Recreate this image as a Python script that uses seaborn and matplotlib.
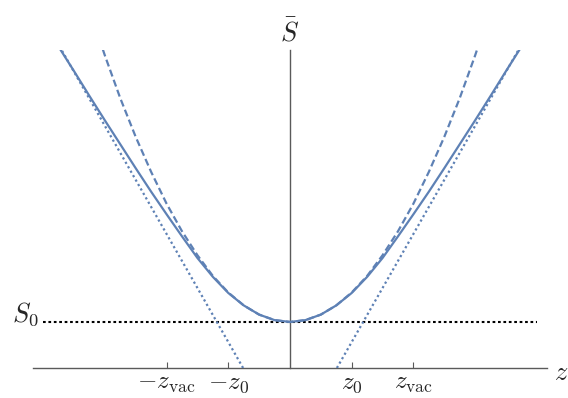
import matplotlib
matplotlib.use("Agg")
import matplotlib.pyplot as plt
import seaborn as sns
import pandas as pd

# Positions along z (in units of z0) for the right half; the curves are symmetric
z_half = [0.0, 0.25, 0.5, 0.75, 1.0, 1.25, 1.5, 1.75, 2.0, 2.25, 2.5, 2.75, 3.0, 3.25, 3.5, 3.75]
# Full action S-bar (in units of S0)
s_full_half = [1.00, 1.04, 1.16, 1.36, 1.63, 1.98, 2.39, 2.86, 3.34, 3.83, 4.34, 4.86, 5.38, 5.91, 6.45, 6.98]
# Small-z (quadratic) approximation
s_quad_half = [1.00, 1.04, 1.16, 1.36, 1.64, 2.00, 2.45, 2.97, 3.57, 4.26, 5.02, 5.86, 6.79, 7.79, 8.88, 10.04]
# Large-z (linear) approximation: two end points per branch
z_lin = [0.76, 3.80]
s_lin = [0.00, 7.14]

s0_level = 1.0
s0_span = [-4.0, 4.0]
tick_pos = [-2, -1, 1, 2]
tick_labels = [r"$-z_{\mathrm{vac}}$", r"$-z_0$", r"$z_0$", r"$z_{\mathrm{vac}}$"]

x_lim = (-4.165, 4.165)
y_lim = (0.0, 6.91)

sns.set_theme(style="white")
plt.rcParams["mathtext.fontset"] = "cm"
plt.rcParams["font.family"] = ["DejaVu Serif"]

blue = "#5E81B5"
axis_grey = "#5a5a5a"
label_size = 19
tick_size = 18

z_all = [-v for v in z_half[::-1]] + z_half[1:]
full_df = pd.DataFrame({"z": z_all, "S": s_full_half[::-1] + s_full_half[1:]})
quad_df = pd.DataFrame({"z": z_all, "S": s_quad_half[::-1] + s_quad_half[1:]})

fig = plt.figure(figsize=(5.68, 3.98), dpi=100)
ax = fig.add_axes([0.0581, 0.0754, 0.9049, 0.799])

# reference level S0
ax.plot(s0_span, [s0_level, s0_level], color="black", lw=1.5,
        linestyle=(0, (1.3, 1.3)), zorder=2)

# linear asymptotes
for sign in (1, -1):
    lin_df = pd.DataFrame({"z": [sign * v for v in z_lin], "S": s_lin})
    sns.lineplot(data=lin_df, x="z", y="S", ax=ax, color=blue, lw=1.6,
                 linestyle=(0, (1.0, 1.3)), estimator=None, sort=False, zorder=3)

sns.lineplot(data=quad_df, x="z", y="S", ax=ax, color=blue, lw=1.6,
             linestyle=(0, (3.2, 1.6)), estimator=None, sort=False, zorder=3)
sns.lineplot(data=full_df, x="z", y="S", ax=ax, color=blue, lw=1.6,
             estimator=None, sort=False, zorder=4)

ax.set_xlim(*x_lim)
ax.set_ylim(*y_lim)

for side in ("top", "right"):
    ax.spines[side].set_visible(False)
ax.spines["left"].set_position(("data", 0))
for side in ("left", "bottom"):
    ax.spines[side].set_color(axis_grey)
    ax.spines[side].set_linewidth(1.0)
    ax.spines[side].set_zorder(1)

ax.set_xticks(tick_pos)
ax.set_xticklabels(tick_labels, fontsize=tick_size)
ax.set_yticks([])
ax.tick_params(axis="x", direction="in", length=4.5, width=0.8,
               color=axis_grey, pad=3, bottom=True)
ax.set_xlabel("")
ax.set_ylabel("")

ax.annotate(r"$\bar{S}$", xy=(0, 1), xycoords=("data", "axes fraction"),
            xytext=(0, 13), textcoords="offset points",
            ha="center", va="center", fontsize=label_size)
ax.annotate(r"$S_0$", xy=(s0_span[0], s0_level), xycoords="data",
            xytext=(-3, 0), textcoords="offset points",
            ha="right", va="baseline", fontsize=label_size)
ax.annotate(r"$z$", xy=(1, 0), xycoords="axes fraction",
            xytext=(5, -3), textcoords="offset points",
            ha="left", va="center", fontsize=label_size)

fig.savefig("out.png", dpi=100)
